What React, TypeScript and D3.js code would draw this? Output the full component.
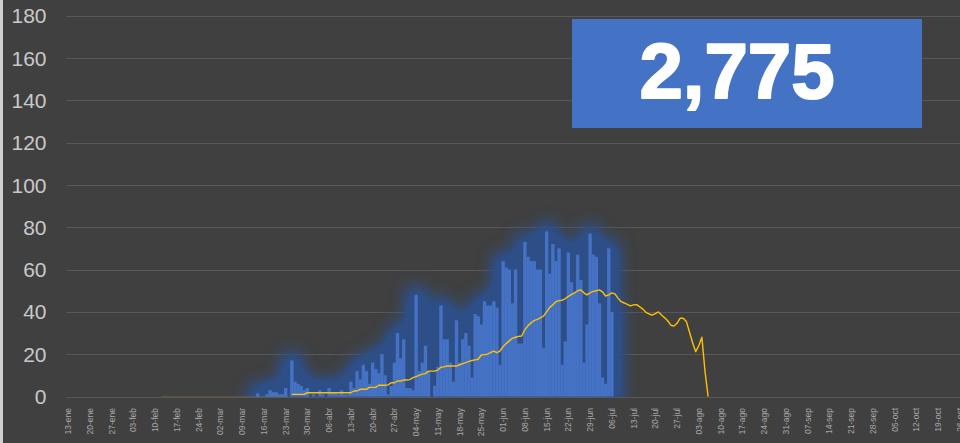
import React from "react";
import * as d3 from "d3";

const W = 960;
const H = 443;

// Category axis: one category per day, starting 13-ene-2020
const axisStart = new Date(2020, 0, 13);
const dayCount = 300;
const monthsEs = ["ene", "feb", "mar", "abr", "may", "jun", "jul", "ago", "sep", "oct", "nov", "dic"];
const yTicks = [0, 20, 40, 60, 80, 100, 120, 140, 160, 180];

// Daily bars, first value on 09-mar-2020
const barStart = new Date(2020, 2, 9);
const barValues = [
  0, 0, 0, 0, 0, 1.5, 0, 0, 1, 3, 2, 2, 1, 1, 4, 0,
  17, 7, 6, 5, 3, 4, 0, 1, 0, 3, 1, 0, 4, 2, 2, 1,
  3, 1, 1, 7, 4, 12, 8, 15, 12, 6, 16, 13, 11, 20, 10, 1,
  5, 16, 30, 18, 27, 4, 4, 3, 48, 12, 16, 24, 12, 0, 5, 14,
  43, 27, 27, 16, 7, 36, 16, 27, 30, 24, 9, 39, 38, 34, 45, 43,
  43, 45, 42, 15, 64, 61, 60, 44, 60, 25, 25, 73, 66, 64, 64, 60,
  60, 23, 78, 58, 72, 64, 70, 15, 26, 68, 54, 49, 67, 55, 16, 34,
  77, 67, 66, 44, 9, 6, 70, 40,
];

// Yellow line, faint zero lead-in from 12-feb, values from 25-mar-2020
const leadStart = new Date(2020, 1, 12);
const leadValues = new Array(42).fill(0);
const lineStart = new Date(2020, 2, 25);
const lineValues = [
  1, 1, 1, 1, 1, 1.8, 1.8, 1.8, 1.8, 1.8, 1.8, 1.8, 1.8, 1.8, 1.8, 1.8,
  1.8, 1.8, 1.8, 1.8, 2.6, 2.6, 3.4, 3.4, 3.4, 4.3, 4.3, 4.3, 5.3, 5.3,
  5.3, 5.5, 6.5, 6.5, 7.3, 7.3, 7.8, 7.8, 8, 8.9, 9.4, 10, 10.6, 10.8,
  12, 12, 12, 12.5, 13.8, 14, 14.4, 14.4, 14.4, 14.4, 15, 15.5, 16, 16.6,
  17, 17.3, 17.6, 19.6, 19.8, 20, 20.8, 21.5, 20.7, 21.5, 23.5, 25, 26.3,
  27.5, 28, 28.4, 28.6, 31.5, 33.4, 34.8, 35.9, 36.5, 37.2, 38, 40, 42,
  43.3, 44.8, 45.3, 45.5, 46.2, 47.3, 48.2, 49, 50, 50.4, 49, 48, 49,
  49.7, 50, 50.4, 49.5, 47.5, 48, 49, 48.5, 46.5, 44.8, 44.2, 43.5, 42.8,
  43.3, 43.4, 42.4, 41.3, 39.8, 39, 38.5, 39.2, 40, 38.5, 37.2, 35.8,
  33.7, 33.3, 34.6, 37, 37, 35.5, 30.5, 25.5, 21.2, 24, 28, 12, 0,
];

const totalLabel = "2,775";

const dayIndex = (start: Date, i: number) => d3.timeDay.count(axisStart, d3.timeDay.offset(start, i));

export default function App() {
  const step = 3.107;
  const x = d3
    .scaleBand<number>()
    .domain(d3.range(dayCount))
    .range([66.5, 66.5 + step * dayCount])
    .padding(0);
  const bw = x.bandwidth();
  const y = d3.scaleLinear().domain([0, 180]).range([396.5, 15.7]);

  const bars = barValues.map((v, i) => ({ d: dayIndex(barStart, i), v }));
  const linePts = lineValues.map((v, i) => ({ d: dayIndex(lineStart, i), v }));
  const leadPts = leadValues.map((v, i) => ({ d: dayIndex(leadStart, i), v }));
  const lineGen = d3
    .line<{ d: number; v: number }>()
    .x((p) => (x(p.d) as number) + bw / 2)
    .y((p) => y(p.v));

  const fmtDay = d3.timeFormat("%d");
  const labelDays = d3.range(0, dayCount, 7);
  const font = "'Liberation Sans', Arial, sans-serif";

  return (
    <>
      <style>{`body{margin:0;background:#404040;}`}</style>
      <svg width={W} height={H} style={{ display: "block" }} fontFamily={font}>
        <defs>
          <filter id="glow" filterUnits="userSpaceOnUse" x="0" y="0" width={W} height={H}>
            <feMorphology in="SourceAlpha" operator="dilate" radius="6" result="dil" />
            <feGaussianBlur in="dil" stdDeviation="8.5" result="blur" />
            <feComponentTransfer in="blur" result="boost">
              <feFuncA type="linear" slope="2.2" intercept="0" />
            </feComponentTransfer>
            <feFlood floodColor="#2c4f8a" floodOpacity="0.95" />
            <feComposite in2="boost" operator="in" result="glowC" />
            <feMerge>
              <feMergeNode in="glowC" />
              <feMergeNode in="SourceGraphic" />
            </feMerge>
          </filter>
          <clipPath id="plotClip">
            <rect x={0} y={0} width={W} height={y(0) + 0.5} />
          </clipPath>
        </defs>
        <rect x={0} y={0} width={W} height={H} fill="#404040" />
        <rect x={0} y={0} width={3} height={H} fill="#d0d0d0" />

        {yTicks.map((t) => (
          <line
            key={"g" + t}
            x1={66.5}
            x2={W}
            y1={Math.round(y(t)) + 0.5}
            y2={Math.round(y(t)) + 0.5}
            stroke="#585858"
            strokeWidth={1}
          />
        ))}
        {yTicks.map((t) => (
          <text key={"yl" + t} x={46.5} y={y(t)} dy="0.36em" textAnchor="end" fontSize={21} fill="#c9c9c9">
            {t}
          </text>
        ))}

        <g clipPath="url(#plotClip)">
          <g filter="url(#glow)">
            {bars.map((b) => (
              <rect
                key={"b" + b.d}
                x={x(b.d) as number}
                y={y(b.v)}
                width={bw + 0.2}
                height={y(0) - y(b.v)}
                fill="#4472C4"
              />
            ))}
          </g>
        </g>

        <path d={lineGen(leadPts) || ""} fill="none" stroke="#FFC000" strokeOpacity={0.12} strokeWidth={1.3} />
        <path d={lineGen(linePts) || ""} fill="none" stroke="#FFC000" strokeWidth={1.4} strokeLinejoin="round" />

        {labelDays.map((d) => {
          const dt = d3.timeDay.offset(axisStart, d);
          const cx = (x(d) as number) + bw / 2;
          return (
            <text
              key={"xl" + d}
              transform={`translate(${cx},408) rotate(-90)`}
              textAnchor="end"
              dominantBaseline="central"
              fontSize={8.5}
              fill="#a8a8a8"
            >
              {`${fmtDay(dt)}-${monthsEs[dt.getMonth()]}`}
            </text>
          );
        })}

        <rect x={572} y={19} width={350} height={109} fill="#4472C4" />
        <text
          x={737}
          y={98}
          textAnchor="middle"
          fontSize={78}
          fontWeight={700}
          fill="#ffffff"
          stroke="#ffffff"
          strokeWidth={2}
          strokeLinejoin="round"
        >
          {totalLabel}
        </text>
      </svg>
    </>
  );
}
